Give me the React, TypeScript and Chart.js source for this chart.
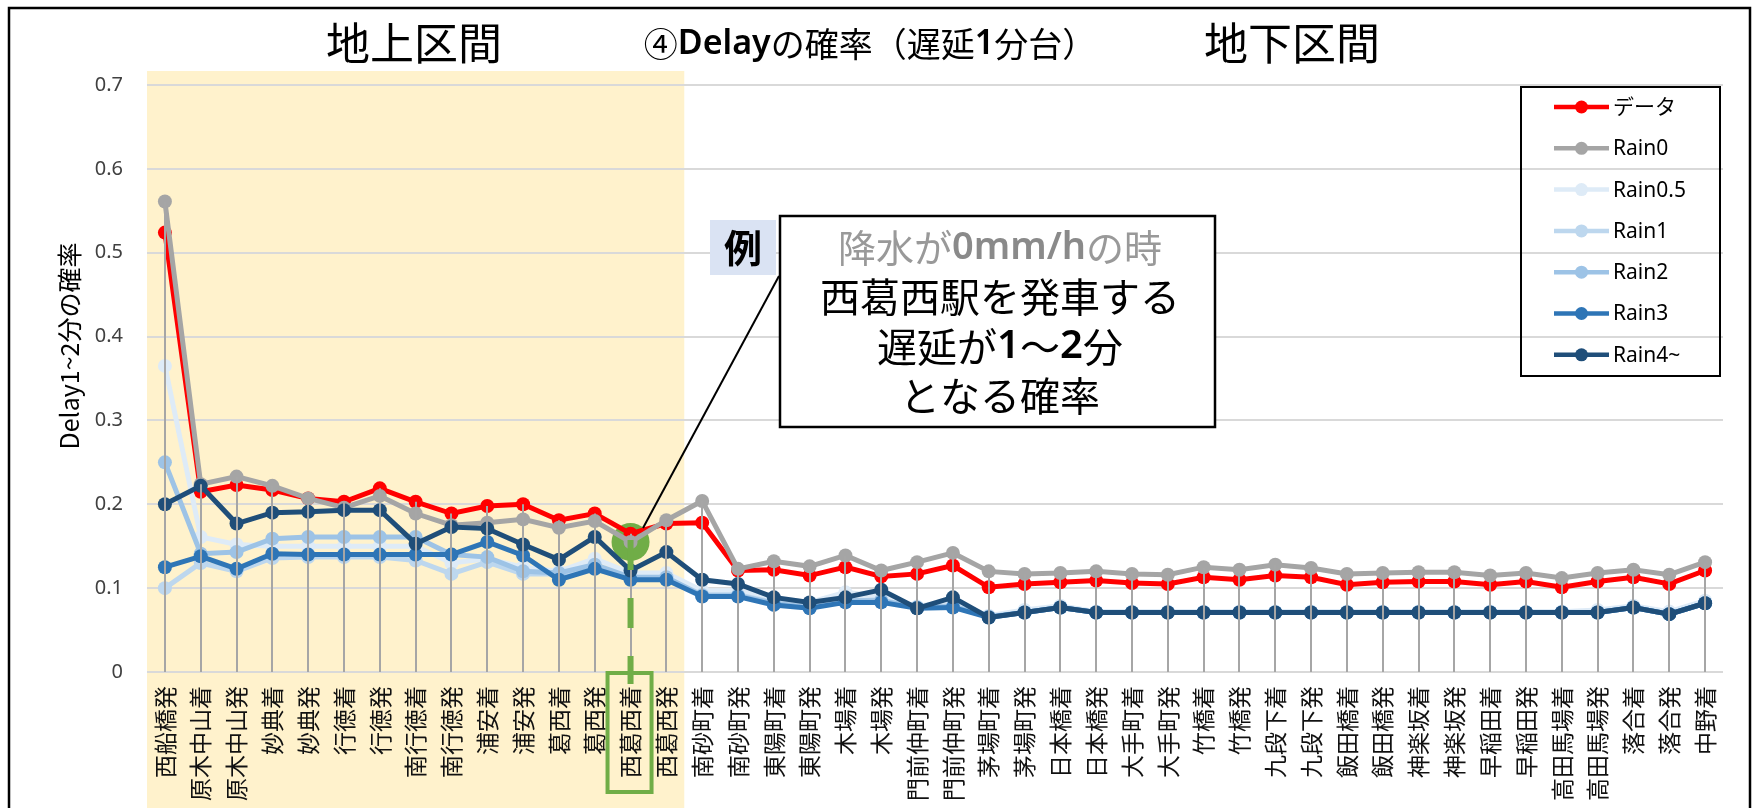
import React, { useEffect, useRef } from "react";
import { Chart, registerables } from "chart.js";

Chart.register(...registerables);

const W = 1756;
const H = 808;

const JP = "'Noto Sans CJK JP', 'Noto Sans', sans-serif";
const LAT = "'Noto Sans', 'Noto Sans CJK JP', sans-serif";

const categories = [
  "西船橋発", "原木中山着", "原木中山発", "妙典着", "妙典発", "行徳着", "行徳発", "南行徳着", "南行徳発", "浦安着",
  "浦安発", "葛西着", "葛西発", "西葛西着", "西葛西発", "南砂町着", "南砂町発", "東陽町着", "東陽町発", "木場着",
  "木場発", "門前仲町着", "門前仲町発", "茅場町着", "茅場町発", "日本橋着", "日本橋発", "大手町着", "大手町発", "竹橋着",
  "竹橋発", "九段下着", "九段下発", "飯田橋着", "飯田橋発", "神楽坂着", "神楽坂発", "早稲田着", "早稲田発", "高田馬場着",
  "高田馬場発", "落合着", "落合発", "中野着",
];

const seriesNames = ["データ", "Rain0", "Rain0.5", "Rain1", "Rain2", "Rain3", "Rain4~"];
const seriesColors = ["#ff0000", "#a5a5a5", "#deebf7", "#bdd7ee", "#9dc3e6", "#2e75b6", "#1f4e79"];

const dataObserved = [
  0.524, 0.215, 0.223, 0.217, 0.207, 0.203, 0.219, 0.203, 0.189, 0.198,
  0.200, 0.181, 0.189, 0.165, 0.177, 0.178, 0.121, 0.122, 0.115, 0.125,
  0.114, 0.117, 0.127, 0.101, 0.105, 0.107, 0.109, 0.106, 0.105, 0.113,
  0.110, 0.115, 0.113, 0.104, 0.107, 0.108, 0.108, 0.104, 0.108, 0.101,
  0.108, 0.113, 0.105, 0.121,
];
const rain0 = [
  0.561, 0.224, 0.233, 0.222, 0.207, 0.196, 0.210, 0.189, 0.175, 0.178,
  0.182, 0.172, 0.180, 0.155, 0.181, 0.204, 0.123, 0.132, 0.126, 0.139,
  0.121, 0.131, 0.142, 0.120, 0.117, 0.118, 0.120, 0.117, 0.116, 0.125,
  0.122, 0.128, 0.124, 0.117, 0.118, 0.119, 0.119, 0.115, 0.118, 0.112,
  0.118, 0.122, 0.116, 0.131,
];
const rain05 = [
  0.365, 0.161, 0.152, 0.150, 0.150, 0.150, 0.150, 0.150, 0.130, 0.135,
  0.125, 0.120, 0.135, 0.118, 0.118, 0.097, 0.097, 0.088, 0.083, 0.095,
  0.090, 0.078, 0.085, 0.067, 0.074, 0.079, 0.072, 0.072, 0.072, 0.072,
  0.072, 0.072, 0.072, 0.072, 0.072, 0.072, 0.072, 0.072, 0.072, 0.072,
  0.074, 0.079, 0.072, 0.085,
];
const rain1 = [
  0.100, 0.130, 0.120, 0.136, 0.137, 0.137, 0.137, 0.133, 0.117, 0.131,
  0.117, 0.117, 0.125, 0.112, 0.112, 0.092, 0.092, 0.083, 0.078, 0.086,
  0.086, 0.077, 0.079, 0.066, 0.071, 0.077, 0.071, 0.071, 0.071, 0.071,
  0.071, 0.071, 0.071, 0.071, 0.071, 0.071, 0.071, 0.071, 0.071, 0.071,
  0.071, 0.077, 0.069, 0.082,
];
const rain2 = [
  0.250, 0.141, 0.143, 0.159, 0.161, 0.161, 0.161, 0.161, 0.140, 0.137,
  0.120, 0.118, 0.128, 0.113, 0.113, 0.091, 0.091, 0.082, 0.077, 0.085,
  0.085, 0.077, 0.078, 0.066, 0.071, 0.077, 0.071, 0.071, 0.071, 0.071,
  0.071, 0.071, 0.071, 0.071, 0.071, 0.071, 0.071, 0.071, 0.071, 0.071,
  0.071, 0.077, 0.069, 0.082,
];
const rain3 = [
  0.125, 0.138, 0.123, 0.141, 0.140, 0.140, 0.140, 0.140, 0.140, 0.155,
  0.139, 0.110, 0.123, 0.110, 0.110, 0.090, 0.090, 0.080, 0.076, 0.083,
  0.083, 0.076, 0.077, 0.065, 0.071, 0.077, 0.071, 0.071, 0.071, 0.071,
  0.071, 0.071, 0.071, 0.071, 0.071, 0.071, 0.071, 0.071, 0.071, 0.071,
  0.071, 0.077, 0.069, 0.082,
];
const rain4 = [
  0.200, 0.222, 0.177, 0.190, 0.191, 0.193, 0.193, 0.153, 0.173, 0.171,
  0.152, 0.134, 0.161, 0.121, 0.143, 0.110, 0.105, 0.089, 0.083, 0.089,
  0.098, 0.076, 0.089, 0.065, 0.071, 0.077, 0.071, 0.071, 0.071, 0.071,
  0.071, 0.071, 0.071, 0.071, 0.071, 0.071, 0.071, 0.071, 0.071, 0.071,
  0.071, 0.077, 0.069, 0.082,
];
const seriesValues = [dataObserved, rain0, rain05, rain1, rain2, rain3, rain4];

const yTickValues = [0, 0.1, 0.2, 0.3, 0.4, 0.5, 0.6, 0.7];

const titleLeft = "地上区間";
const titleRight = "地下区間";
const yAxisTitle = "Delay1~2分の確率";
const groundEndIndex = 14; // last above-ground category (西葛西発)
const highlightIndex = 13; // 西葛西着
const highlightSeries = 1; // Rain0
const exampleMark = "例";

type Seg = { t: string; font: string; color: string };

function drawSegs(ctx: CanvasRenderingContext2D, segs: Seg[], cx: number, cy: number) {
  let total = 0;
  for (const s of segs) {
    ctx.font = s.font;
    total += ctx.measureText(s.t).width;
  }
  let x = cx - total / 2;
  ctx.textAlign = "left";
  ctx.textBaseline = "middle";
  for (const s of segs) {
    ctx.font = s.font;
    ctx.fillStyle = s.color;
    ctx.fillText(s.t, x, cy);
    x += ctx.measureText(s.t).width;
  }
}

const decorPlugin = {
  id: "decor",
  beforeDraw(chart: any) {
    const { ctx, chartArea, scales } = chart;
    const xs = scales.x;
    const x0 = chartArea.left;
    const x1 = (xs.getPixelForValue(groundEndIndex) + xs.getPixelForValue(groundEndIndex + 1)) / 2;
    ctx.save();
    ctx.fillStyle = "#ffffff";
    ctx.fillRect(0, 0, chart.width, chart.height);
    ctx.fillStyle = "#fff2cc";
    ctx.fillRect(x0, 71, x1 - x0, chart.height - 71);
    ctx.restore();
  },
  beforeDatasetsDraw(chart: any) {
    const { ctx, scales } = chart;
    const cx = scales.x.getPixelForValue(highlightIndex);
    const cy = scales.y.getPixelForValue(seriesValues[highlightSeries][highlightIndex]);
    ctx.save();
    ctx.fillStyle = "#70ad47";
    ctx.beginPath();
    ctx.arc(cx, cy, 19, 0, Math.PI * 2);
    ctx.fill();
    ctx.restore();
  },
  afterDatasetsDraw(chart: any) {
    const { ctx, scales, chartArea } = chart;
    ctx.save();
    ctx.strokeStyle = "#a6a6a6";
    ctx.lineWidth = 2;
    for (let i = 0; i < categories.length; i++) {
      let mx = 0;
      for (const s of seriesValues) mx = Math.max(mx, s[i]);
      const x = Math.round(scales.x.getPixelForValue(i));
      ctx.beginPath();
      ctx.moveTo(x, scales.y.getPixelForValue(mx));
      ctx.lineTo(x, chartArea.bottom);
      ctx.stroke();
    }
    ctx.restore();
  },
  afterDraw(chart: any) {
    const { ctx, scales, chartArea } = chart;
    ctx.save();

    // outer frame
    ctx.strokeStyle = "#000";
    ctx.lineWidth = 2.5;
    ctx.strokeRect(9, 8, 1741, 900);

    // titles
    ctx.fillStyle = "#000";
    ctx.textAlign = "center";
    ctx.textBaseline = "middle";
    ctx.font = `44px ${JP}`;
    ctx.fillText(titleLeft, 414, 43);
    ctx.fillText(titleRight, 1292, 43);
    drawSegs(ctx, [
      { t: "④", font: `34px ${JP}`, color: "#000" },
      { t: "Delay", font: `600 34px ${LAT}`, color: "#000" },
      { t: "の確率（遅延", font: `34px ${JP}`, color: "#000" },
      { t: "1", font: `600 34px ${LAT}`, color: "#000" },
      { t: "分台）", font: `34px ${JP}`, color: "#000" },
    ], 870, 44);

    // y axis title
    ctx.save();
    ctx.translate(69, 346);
    ctx.rotate(-Math.PI / 2);
    ctx.font = `25px ${JP}`;
    ctx.fillStyle = "#000";
    ctx.textAlign = "center";
    ctx.textBaseline = "middle";
    ctx.fillText(yAxisTitle, 0, 0);
    ctx.restore();

    // legend
    const lx0 = 1521, ly0 = 87, lx1 = 1720, ly1 = 376;
    ctx.strokeStyle = "#000";
    ctx.lineWidth = 2;
    ctx.strokeRect(lx0, ly0, lx1 - lx0, ly1 - ly0);
    chart.data.datasets.forEach((ds: any, i: number) => {
      const y = 107 + i * 41.3;
      ctx.strokeStyle = ds.borderColor;
      ctx.lineWidth = 4.5;
      ctx.beginPath();
      ctx.moveTo(1554, y);
      ctx.lineTo(1609, y);
      ctx.stroke();
      ctx.fillStyle = ds.borderColor;
      ctx.beginPath();
      ctx.arc(1581.5, y, 6.5, 0, Math.PI * 2);
      ctx.fill();
      ctx.fillStyle = "#000";
      ctx.font = `21px ${LAT}`;
      ctx.textAlign = "left";
      ctx.textBaseline = "middle";
      ctx.fillText(ds.label, 1613, y + 1);
    });

    // highlight: dashed line and label box
    const hx = scales.x.getPixelForValue(highlightIndex);
    ctx.strokeStyle = "#70ad47";
    ctx.lineWidth = 6;
    ctx.setLineDash([30, 28]);
    ctx.beginPath();
    ctx.moveTo(hx, 540);
    ctx.lineTo(hx, chartArea.bottom + 12);
    ctx.stroke();
    ctx.setLineDash([]);
    ctx.lineWidth = 4;
    ctx.strokeRect(hx - 23, chartArea.bottom + 1, 44, 119);

    // connector line
    ctx.strokeStyle = "#000";
    ctx.lineWidth = 2;
    ctx.beginPath();
    ctx.moveTo(779, 276);
    ctx.lineTo(643, 528);
    ctx.stroke();

    // example mark
    ctx.fillStyle = "#dae3f3";
    ctx.fillRect(710, 220, 66, 55);
    ctx.fillStyle = "#000";
    ctx.font = `bold 38px ${JP}`;
    ctx.textAlign = "center";
    ctx.textBaseline = "middle";
    ctx.fillText(exampleMark, 743, 248);

    // callout box
    ctx.fillStyle = "#fff";
    ctx.fillRect(780, 216, 435, 211);
    ctx.strokeStyle = "#000";
    ctx.lineWidth = 2.5;
    ctx.strokeRect(780, 216, 435, 211);
    const g = "#999999";
    drawSegs(ctx, [
      { t: "降水が", font: `38px ${JP}`, color: g },
      { t: "0mm/h", font: `600 38px ${LAT}`, color: "#8a8a8a" },
      { t: "の時", font: `38px ${JP}`, color: g },
    ], 1000, 248);
    drawSegs(ctx, [{ t: "西葛西駅を発車する", font: `40px ${JP}`, color: "#000" }], 1000, 297);
    drawSegs(ctx, [
      { t: "遅延が", font: `40px ${JP}`, color: "#000" },
      { t: "1", font: `600 40px ${LAT}`, color: "#000" },
      { t: "～", font: `40px ${JP}`, color: "#000" },
      { t: "2", font: `600 40px ${LAT}`, color: "#000" },
      { t: "分", font: `40px ${JP}`, color: "#000" },
    ], 1000, 347);
    drawSegs(ctx, [{ t: "となる確率", font: `40px ${JP}`, color: "#000" }], 1000, 396);

    ctx.restore();
  },
};

export default function App() {
  const ref = useRef<HTMLCanvasElement>(null);
  useEffect(() => {
    const canvas = ref.current;
    if (!canvas) return;
    const chart = new Chart(canvas, {
      type: "line",
      data: {
        labels: categories,
        datasets: seriesNames.map((name, i) => ({
          label: name,
          data: seriesValues[i],
          borderColor: seriesColors[i],
          backgroundColor: seriesColors[i],
          pointBackgroundColor: seriesColors[i],
          pointBorderColor: seriesColors[i],
          pointBorderWidth: 0,
          pointRadius: 7,
          borderWidth: 5,
          tension: 0,
          fill: false,
          order: 10 - i,
        })),
      },
      options: {
        animation: false,
        responsive: false,
        devicePixelRatio: 1,
        events: [],
        layout: { padding: { top: 85, right: 33, left: 0, bottom: 0 } },
        plugins: {
          legend: { display: false },
          tooltip: { enabled: false },
          title: { display: false },
        },
        scales: {
          x: {
            type: "category",
            offset: true,
            grid: { display: false, drawTicks: false },
            border: { display: false },
            ticks: {
              autoSkip: false,
              minRotation: 90,
              maxRotation: 90,
              padding: 14,
              color: "#111",
              font: { family: JP, size: 23 },
            },
            afterFit: (scale: any) => {
              scale.height = 136;
            },
          },
          y: {
            min: 0,
            max: 0.7,
            afterBuildTicks: (scale: any) => {
              scale.ticks = yTickValues.map((v) => ({ value: v }));
            },
            grid: { color: "#d9d9d9", lineWidth: 2, drawTicks: false },
            border: { display: false },
            ticks: {
              padding: 24,
              color: "#404040",
              font: { family: LAT, size: 20 },
              callback: (v: any) => (Number(v) === 0 ? "0" : Number(v).toFixed(1)),
            },
            afterFit: (scale: any) => {
              scale.width = 147;
            },
          },
        },
      },
      plugins: [decorPlugin],
    } as any);
    return () => chart.destroy();
  }, []);
  return (
    <div style={{ position: "fixed", left: 0, top: 0, width: W, height: H, background: "#fff", overflow: "hidden" }}>
      <canvas ref={ref} width={W} height={H} style={{ display: "block", width: W, height: H }} />
    </div>
  );
}
